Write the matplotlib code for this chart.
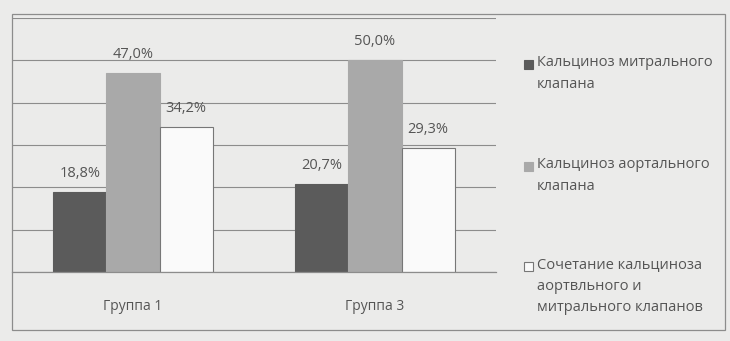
import matplotlib
matplotlib.use("Agg")
import matplotlib.pyplot as plt
import numpy as np
from matplotlib.patches import Rectangle

groups = ["Группа 1", "Группа 3"]
series = [
    "Кальциноз митрального\nклапана",
    "Кальциноз аортального\nклапана",
    "Сочетание кальциноза\nаортвльного и\nмитрального клапанов",
]
mitral = [18.8, 20.7]
aortic = [47.0, 50.0]
combined = [34.2, 29.3]

BG = "#ebebea"
INK = "#555555"
GRID = "#8c8c8c"
COLORS = ["#5b5b5b", "#a9a9a9", "#fafafa"]

plt.rcParams["font.family"] = ["Open Sans", "DejaVu Sans"]

fig = plt.figure(figsize=(7.3, 3.41), dpi=100)
fig.patch.set_facecolor(BG)
ax = fig.add_axes([12 / 730, 1 - 272 / 341, 484 / 730, 254 / 341])
ax.set_facecolor(BG)

x = np.arange(len(groups))
w = 0.22
for i, (vals, col) in enumerate(zip([mitral, aortic, combined], COLORS)):
    pos = x + (i - 1) * w
    ax.bar(pos, vals, w, color=col, edgecolor="#777777" if i == 2 else col,
           linewidth=0.8, zorder=3)
    for p, v in zip(pos, vals):
        ax.text(p, v + 2.6, f"{v:.1f}%".replace(".", ","), ha="center",
                va="bottom", color=INK, fontsize=10.5)

ax.set_xlim(-0.5, 1.5)
ax.set_ylim(0, 60)
ax.set_yticks(np.arange(0, 61, 10))
ax.yaxis.grid(True, color=GRID, linewidth=0.8)
ax.axhline(0, color=GRID, linewidth=0.9, zorder=4, clip_on=False)
ax.set_axisbelow(True)
ax.tick_params(left=False, labelleft=False, bottom=False)
ax.set_xticks(x)
ax.set_xticklabels(groups, color=INK, fontsize=10)
ax.tick_params(axis="x", pad=16)
for s in ax.spines.values():
    s.set_visible(False)

# outer frame
fig.patches.append(Rectangle((12 / 730, 1 - 330 / 341), 713 / 730, 316 / 341,
                             transform=fig.transFigure, fill=False,
                             edgecolor="#8c8c8c", linewidth=0.9))

# legend, drawn by hand so markers sit on the first line
leg_y = [64, 166, 266]
for lab, col, y in zip(series, COLORS, leg_y):
    fig.patches.append(Rectangle((524 / 730, 1 - (y + 4.5) / 341), 9 / 730, 9 / 341,
                                 transform=fig.transFigure, facecolor=col,
                                 edgecolor="#777777" if col == COLORS[2] else col,
                                 linewidth=0.8))
    fig.text(537 / 730, 1 - (y - 9) / 341, lab, ha="left", va="top",
             color=INK, fontsize=10.5, linespacing=1.6)

fig.savefig("out.png", dpi=100, facecolor=BG)
